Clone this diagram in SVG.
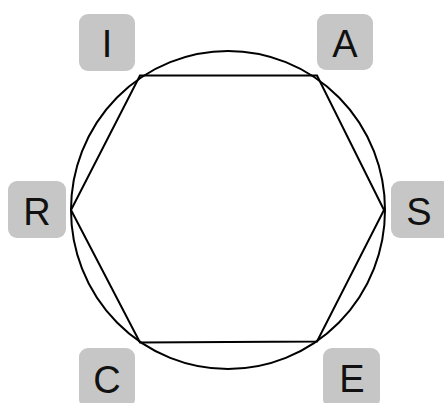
<svg xmlns="http://www.w3.org/2000/svg" width="444" height="403" viewBox="0 0 444 403">
<style>
.box{fill:#c6c6c6;}
.lbl{font-family:"Liberation Sans","Noto Sans",sans-serif;font-size:38px;fill:#111;text-anchor:middle;}
.ln{fill:none;stroke:#000;stroke-width:2;}
</style>
<rect width="444" height="403" fill="#fff"/>
<g id="connectors">
<ellipse class="ln" cx="228" cy="210" rx="157" ry="159"/>
<polygon class="ln" points="140,75.5 317,75.5 384,210 317,341.5 140,342.5 71,210"/>
</g>
<g id="node-I"><rect class="box" x="79" y="14" width="56" height="57" rx="9"/><text class="lbl" x="107" y="57">I</text></g>
<g id="node-A"><rect class="box" x="317" y="14" width="56" height="56" rx="9"/><text class="lbl" x="345" y="57">A</text></g>
<g id="node-R"><rect class="box" x="8" y="181" width="58" height="57" rx="9"/><text class="lbl" x="37" y="225">R</text></g>
<g id="node-S"><rect class="box" x="391" y="181" width="60" height="57" rx="9"/><text class="lbl" x="419" y="225">S</text></g>
<g id="node-C"><rect class="box" x="79" y="348" width="56" height="60" rx="9"/><text class="lbl" x="107" y="393">C</text></g>
<g id="node-E"><rect class="box" x="323" y="348" width="57" height="60" rx="9"/><text class="lbl" x="352" y="392">E</text></g>
</svg>
